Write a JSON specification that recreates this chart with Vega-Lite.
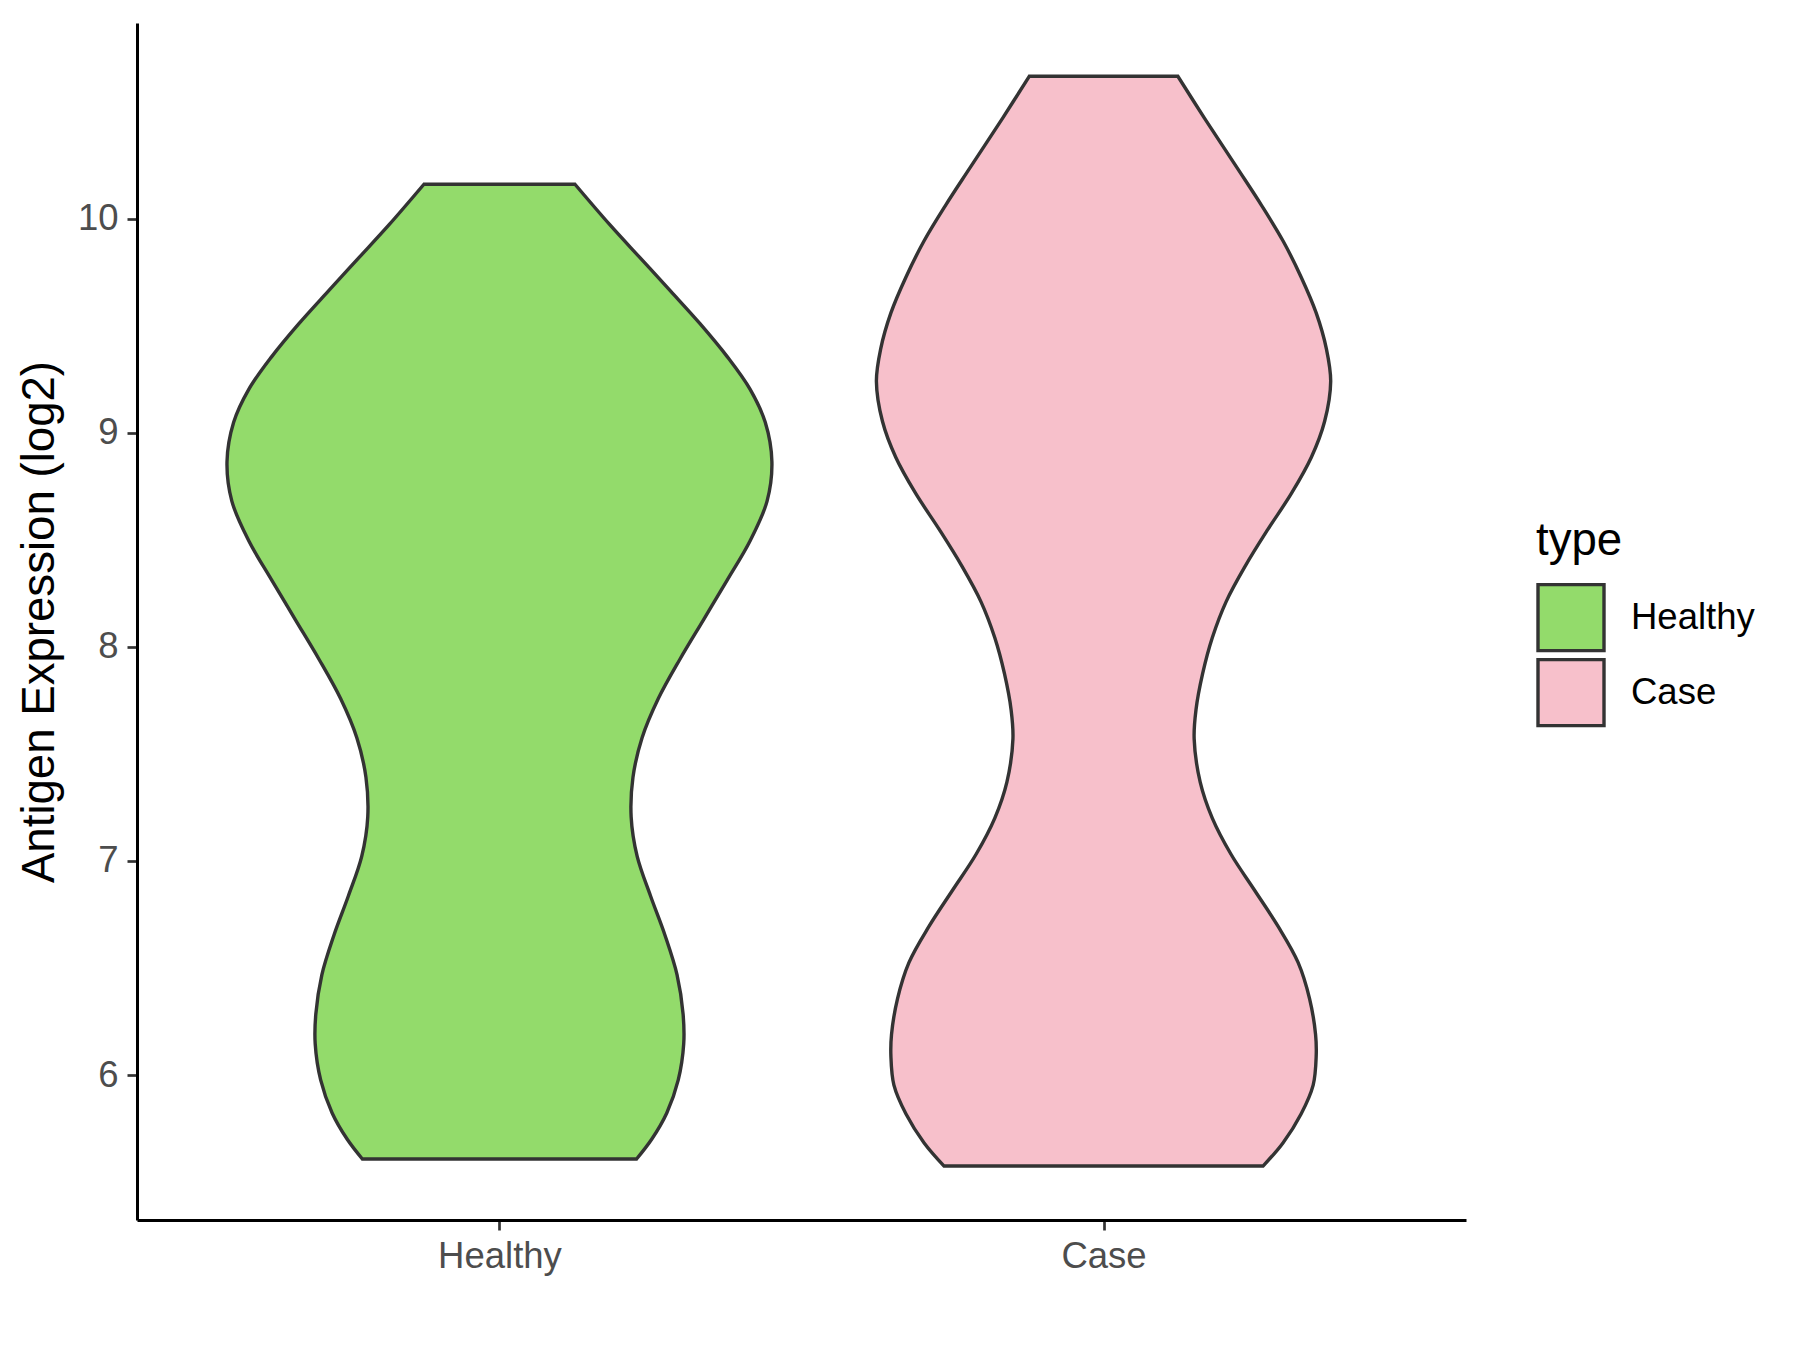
{
  "$schema": "https://vega.github.io/schema/vega-lite/v6.json",
  "autosize": "none",
  "padding": {"left": 137, "top": 23, "right": 334, "bottom": 130},
  "width": 1329,
  "height": 1197,
  "background": "white",
  "config": {"view": {"stroke": null}, "font": "Liberation Sans"},
  "data": {"values": [
    {"type": "Healthy", "y": 5.608, "lo": 0.773, "hi": 1.227},
    {"type": "Healthy", "y": 5.700, "lo": 0.748, "hi": 1.252},
    {"type": "Healthy", "y": 5.823, "lo": 0.723, "hi": 1.277},
    {"type": "Healthy", "y": 5.977, "lo": 0.704, "hi": 1.296},
    {"type": "Healthy", "y": 6.145, "lo": 0.695, "hi": 1.305},
    {"type": "Healthy", "y": 6.284, "lo": 0.696, "hi": 1.304},
    {"type": "Healthy", "y": 6.468, "lo": 0.706, "hi": 1.294},
    {"type": "Healthy", "y": 6.653, "lo": 0.726, "hi": 1.274},
    {"type": "Healthy", "y": 6.837, "lo": 0.750, "hi": 1.250},
    {"type": "Healthy", "y": 7.021, "lo": 0.772, "hi": 1.228},
    {"type": "Healthy", "y": 7.206, "lo": 0.782, "hi": 1.218},
    {"type": "Healthy", "y": 7.390, "lo": 0.779, "hi": 1.221},
    {"type": "Healthy", "y": 7.574, "lo": 0.764, "hi": 1.236},
    {"type": "Healthy", "y": 7.758, "lo": 0.737, "hi": 1.263},
    {"type": "Healthy", "y": 7.943, "lo": 0.701, "hi": 1.299},
    {"type": "Healthy", "y": 8.127, "lo": 0.662, "hi": 1.338},
    {"type": "Healthy", "y": 8.311, "lo": 0.623, "hi": 1.377},
    {"type": "Healthy", "y": 8.495, "lo": 0.585, "hi": 1.415},
    {"type": "Healthy", "y": 8.680, "lo": 0.557, "hi": 1.443},
    {"type": "Healthy", "y": 8.864, "lo": 0.549, "hi": 1.451},
    {"type": "Healthy", "y": 9.048, "lo": 0.560, "hi": 1.440},
    {"type": "Healthy", "y": 9.202, "lo": 0.585, "hi": 1.415},
    {"type": "Healthy", "y": 9.355, "lo": 0.623, "hi": 1.377},
    {"type": "Healthy", "y": 9.509, "lo": 0.668, "hi": 1.332},
    {"type": "Healthy", "y": 9.662, "lo": 0.717, "hi": 1.283},
    {"type": "Healthy", "y": 9.816, "lo": 0.767, "hi": 1.233},
    {"type": "Healthy", "y": 9.970, "lo": 0.817, "hi": 1.183},
    {"type": "Healthy", "y": 10.160, "lo": 0.875, "hi": 1.125},
    {"type": "Case", "y": 5.575, "lo": 1.736, "hi": 2.264},
    {"type": "Case", "y": 5.683, "lo": 1.703, "hi": 2.297},
    {"type": "Case", "y": 5.818, "lo": 1.673, "hi": 2.327},
    {"type": "Case", "y": 5.953, "lo": 1.653, "hi": 2.347},
    {"type": "Case", "y": 6.088, "lo": 1.648, "hi": 2.352},
    {"type": "Case", "y": 6.189, "lo": 1.649, "hi": 2.351},
    {"type": "Case", "y": 6.357, "lo": 1.659, "hi": 2.341},
    {"type": "Case", "y": 6.526, "lo": 1.678, "hi": 2.322},
    {"type": "Case", "y": 6.694, "lo": 1.711, "hi": 2.289},
    {"type": "Case", "y": 6.863, "lo": 1.750, "hi": 2.250},
    {"type": "Case", "y": 7.031, "lo": 1.789, "hi": 2.211},
    {"type": "Case", "y": 7.200, "lo": 1.820, "hi": 2.180},
    {"type": "Case", "y": 7.368, "lo": 1.840, "hi": 2.160},
    {"type": "Case", "y": 7.570, "lo": 1.850, "hi": 2.150},
    {"type": "Case", "y": 7.705, "lo": 1.847, "hi": 2.153},
    {"type": "Case", "y": 7.874, "lo": 1.836, "hi": 2.164},
    {"type": "Case", "y": 8.042, "lo": 1.820, "hi": 2.180},
    {"type": "Case", "y": 8.211, "lo": 1.797, "hi": 2.203},
    {"type": "Case", "y": 8.379, "lo": 1.765, "hi": 2.235},
    {"type": "Case", "y": 8.548, "lo": 1.728, "hi": 2.272},
    {"type": "Case", "y": 8.716, "lo": 1.689, "hi": 2.311},
    {"type": "Case", "y": 8.885, "lo": 1.656, "hi": 2.344},
    {"type": "Case", "y": 9.053, "lo": 1.634, "hi": 2.366},
    {"type": "Case", "y": 9.239, "lo": 1.624, "hi": 2.376},
    {"type": "Case", "y": 9.390, "lo": 1.631, "hi": 2.369},
    {"type": "Case", "y": 9.559, "lo": 1.648, "hi": 2.352},
    {"type": "Case", "y": 9.727, "lo": 1.673, "hi": 2.327},
    {"type": "Case", "y": 9.896, "lo": 1.703, "hi": 2.297},
    {"type": "Case", "y": 10.064, "lo": 1.739, "hi": 2.261},
    {"type": "Case", "y": 10.233, "lo": 1.778, "hi": 2.222},
    {"type": "Case", "y": 10.469, "lo": 1.833, "hi": 2.167},
    {"type": "Case", "y": 10.664, "lo": 1.877, "hi": 2.123}
  ]},
  "mark": {"type": "area", "orient": "horizontal", "interpolate": "catmull-rom", "stroke": "#333333", "strokeWidth": 3.4, "fillOpacity": 1},
  "encoding": {
    "y": {
      "field": "y", "type": "quantitative",
      "scale": {"domain": [5.323, 10.913], "nice": false, "zero": false},
      "axis": {
        "values": [6, 7, 8, 9, 10], "grid": false,
        "domainColor": "black", "domainWidth": 3,
        "tickColor": "#333333", "tickWidth": 2.7, "tickSize": 10,
        "labelFont": "Liberation Sans", "labelFontSize": 36.5, "labelColor": "#4D4D4D", "labelPadding": 9,
        "title": "Antigen Expression (log2)", "titleFont": "Liberation Sans", "titleFontSize": 45.6,
        "titleFontWeight": "normal", "titleColor": "black", "titlePadding": 14
      }
    },
    "x": {
      "field": "lo", "type": "quantitative",
      "scale": {"domain": [0.4, 2.6], "nice": false, "zero": false},
      "axis": {
        "values": [1, 2], "grid": false,
        "labelExpr": "datum.value == 1 ? 'Healthy' : 'Case'",
        "domainColor": "black", "domainWidth": 3,
        "tickColor": "#333333", "tickWidth": 2.7, "tickSize": 10,
        "labelFont": "Liberation Sans", "labelFontSize": 36.5, "labelColor": "#4D4D4D", "labelPadding": 8,
        "title": null
      }
    },
    "x2": {"field": "hi"},
    "color": {
      "field": "type", "type": "nominal",
      "scale": {"domain": ["Healthy", "Case"], "range": ["#93DB6B", "#F7C0CB"]},
      "legend": {
        "orient": "none", "legendX": 1399, "legendY": 496, "padding": 0,
        "title": "type", "titleFont": "Liberation Sans", "titleFontSize": 45.6, "titleFontWeight": "normal",
        "titleColor": "black", "titlePadding": 18,
        "labelFont": "Liberation Sans", "labelFontSize": 36.5, "labelColor": "black", "labelOffset": 25,
        "symbolType": "square", "symbolSize": 4356, "symbolStrokeColor": "#333333", "symbolStrokeWidth": 3.4,
        "symbolOpacity": 1, "rowPadding": -5
      }
    }
  }
}
